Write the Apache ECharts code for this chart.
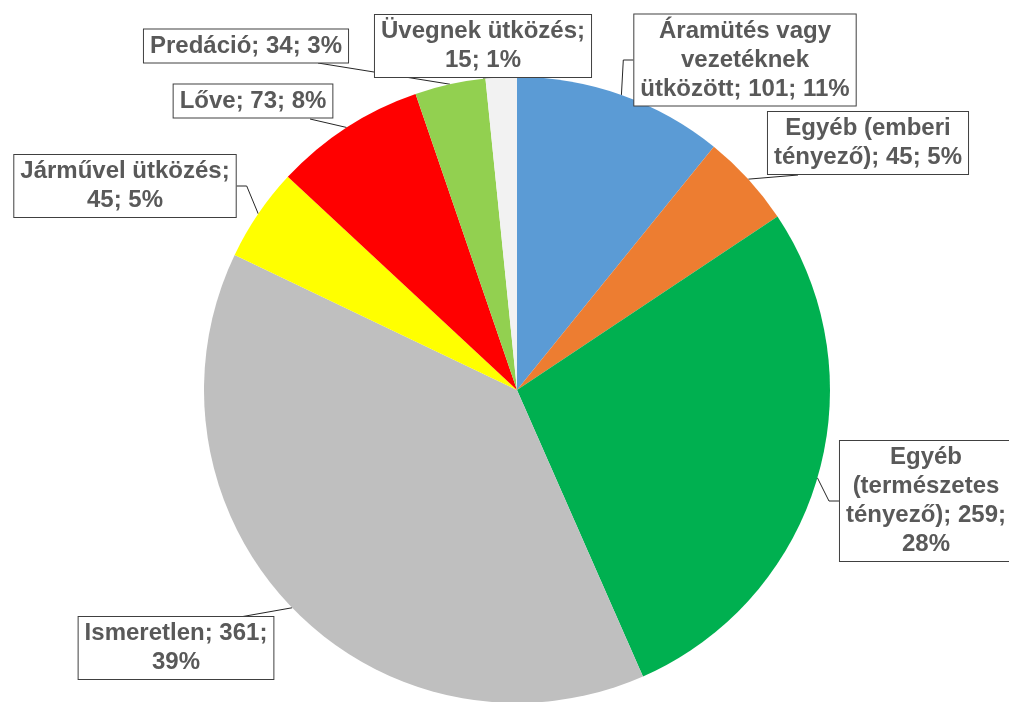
<!DOCTYPE html>
<html>
<head>
<meta charset="utf-8">
<script src="https://cdn.jsdelivr.net/npm/echarts@6/dist/echarts.min.js"></script>
<style>
  html, body { margin: 0; padding: 0; background: #fff; }
  #chart { width: 1009px; height: 702px; }
</style>
</head>
<body>
<div id="chart"></div>
<script>
// adatok (óramutató járásával, felülről kezdve)
var names = ['Áramütés vagy vezetéknek ütközött', 'Egyéb (emberi tényező)', 'Egyéb (természetes tényező)',
  'Ismeretlen', 'Járművel ütközés', 'Lőve', 'Predáció', 'Üvegnek ütközés']
var values = [101, 45, 259, 361, 45, 73, 34, 15]
var percents = ['11%', '5%', '28%', '39%', '5%', '8%', '3%', '1%']
// címkék sortörései, ahogy a képen
var labelTexts = [
  'Áramütés vagy\nvezetéknek\nütközött; 101; 11%',
  'Egyéb (emberi\ntényező); 45; 5%',
  'Egyéb\n(természetes\ntényező); 259;\n28%',
  'Ismeretlen; 361;\n39%',
  'Járművel ütközés;\n45; 5%',
  'Lőve; 73; 8%',
  'Predáció; 34; 3%',
  'Üvegnek ütközés;\n15; 1%'
]
var colors = ['#5B9BD5', '#ED7D31', '#00B050', '#BFBFBF', '#FFFF00', '#FF0000', '#92D050', '#F2F2F2']

// címkedobozok középpontjai és a vezetővonalak csatlakozási pontjai
var labelPos = [[745, 60], [868, 143], [926, 501], [176, 648], [125, 186], [253, 101], [246, 46], [483, 46]]
var lineAttach = [null, [798, 175], null, [240, 617], null, [310, 119], [318, 63], null]

var myChart = echarts.init(document.getElementById('chart'))
myChart.setOption({
  backgroundColor: '#fff',
  animation: false,
  color: colors,
  series: [{
    type: 'pie',
    center: [517, 390],
    radius: 313,
    startAngle: 90,
    clockwise: true,
    avoidLabelOverlap: false,
    itemStyle: { borderWidth: 0 },
    label: {
      show: true,
      position: 'outside',
      formatter: function (p) { return labelTexts[p.dataIndex] },
      fontFamily: 'Liberation Sans, Arial, sans-serif',
      fontWeight: 'bold',
      fontSize: 24,
      lineHeight: 29,
      color: '#595959',
      align: 'center',
      backgroundColor: '#fff',
      borderColor: '#404040',
      borderWidth: 1,
      padding: [2, 6]
    },
    labelLine: {
      show: true,
      length: 10,
      length2: 10,
      lineStyle: { color: '#262626', width: 1 }
    },
    labelLayout: function (params) {
      var i = params.dataIndex
      var p = labelPos[i]
      var res = { x: p[0], y: p[1], align: 'center', verticalAlign: 'middle' }
      var a = lineAttach[i]
      if (a && params.labelLinePoints) {
        var anchor = params.labelLinePoints[0]
        res.labelLinePoints = [anchor, a, a]
      }
      return res
    },
    data: names.map(function (n, i) {
      return { name: n, value: values[i], percent: percents[i] }
    })
  }]
})
</script>
</body>
</html>
